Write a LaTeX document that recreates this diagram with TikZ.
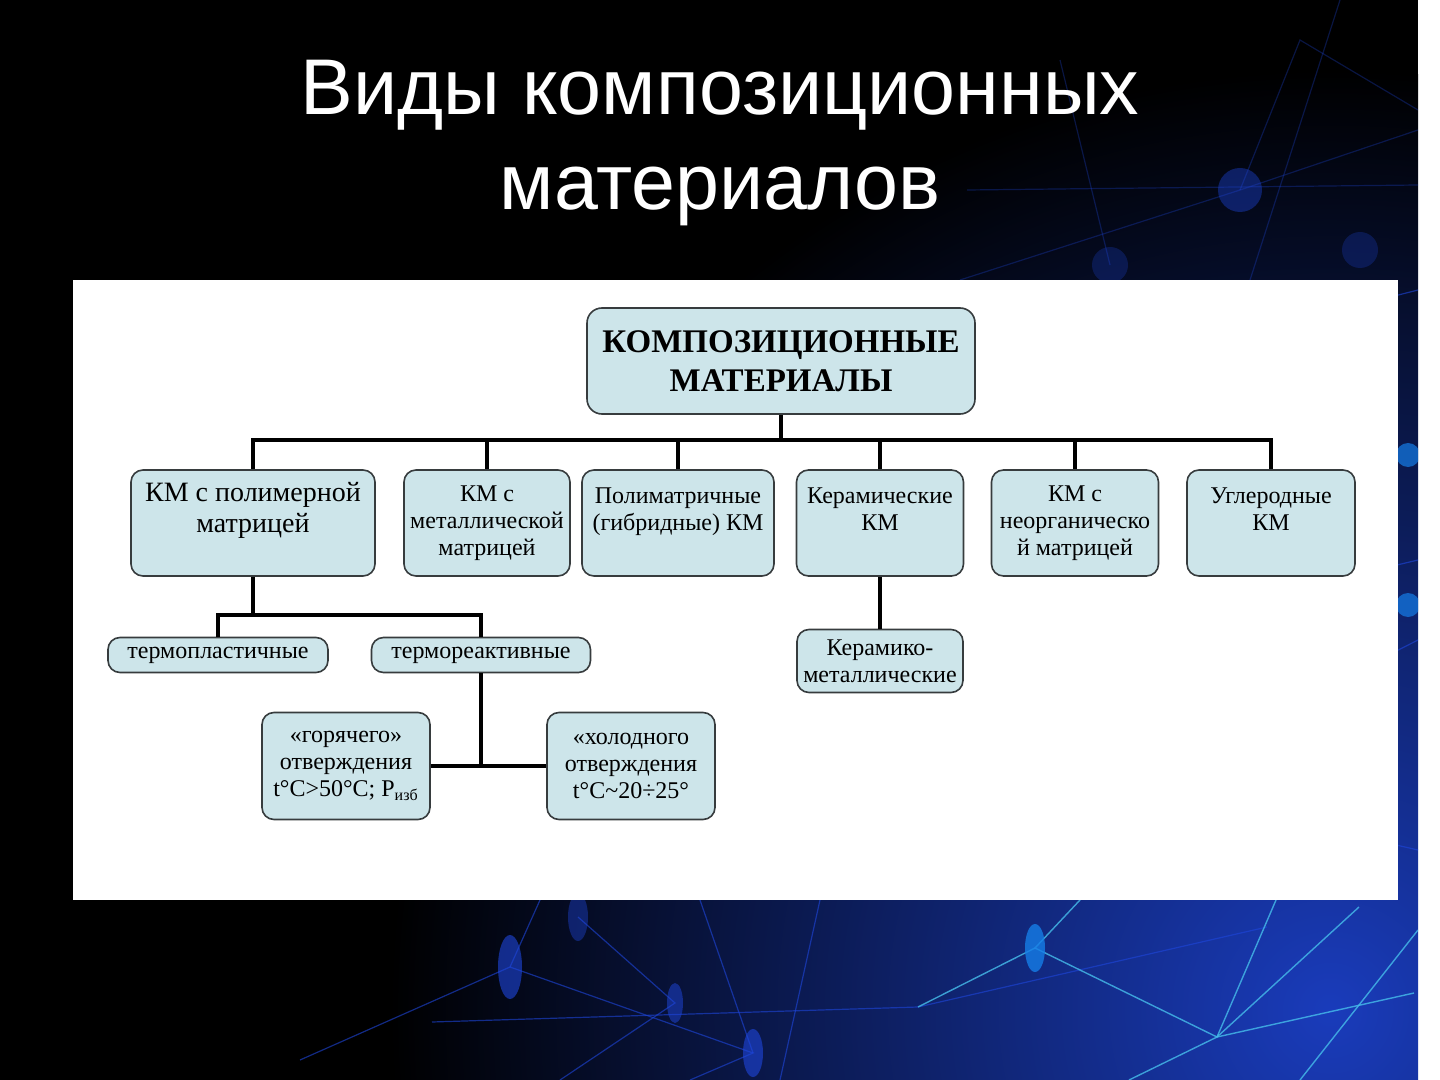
\documentclass[tikz,border=0pt]{standalone}
\usepackage{fontspec}
\setmainfont{Liberation Serif}
\newfontfamily\titlefont{Liberation Sans}
\usetikzlibrary{positioning,calc}
\definecolor{boxfill}{RGB}{205,229,234}
\definecolor{boxline}{RGB}{55,60,62}
\definecolor{netblue}{RGB}{30,70,220}
\definecolor{netcyan}{RGB}{70,190,235}
\tikzset{
  kmbox/.style  ={draw=boxline,line width=0.8pt,rounded corners=6pt,fill=boxfill,align=center,inner sep=2pt,
                  font=\fontsize{12}{13.5}\selectfont},
  rootbox/.style={kmbox,rounded corners=7.5pt,font=\fontsize{16.5}{19.5}\selectfont\bfseries,
                  minimum width=194pt,minimum height=53pt},
  level/.style  ={kmbox,minimum width=83.5pt,minimum height=53pt},
  flat/.style   ={kmbox,minimum height=17.5pt},
  link/.style   ={line width=2pt},
  net/.style    ={netblue,line width=0.6pt,opacity=0.6},
  netdim/.style ={netblue,line width=0.6pt,opacity=0.3},
  netlit/.style ={netcyan,line width=0.7pt,opacity=0.8},
  title/.style  ={white,align=center,font=\titlefont\fontsize{39.5}{47.5}\selectfont}
}
\begin{document}
\begin{tikzpicture}[x=0.5pt,y=-0.5pt]
  \useasboundingbox (0,0) rectangle (1440,1080);
  % slide background
  \fill[black] (0,0) rectangle (1440,1080);
  \fill[white] (1418,0) rectangle (1440,1080);
  \begin{scope}
    \clip (0,0) rectangle (1418,1080);
    \shade[inner color=netblue!85!black,outer color=black] (1330,1010) circle [radius=470pt];
    % network lines
    \draw[netdim] (960,280) -- (1240,190) -- (1418,130);
    \draw[netdim] (967,190) -- (1418,185);
    \draw[netdim] (1240,190) -- (1300,40) -- (1418,110);
    \draw[netdim] (1340,0) -- (1250,280);
    \draw[netdim] (1110,265) -- (1060,60);
    \draw[net] (1300,320) -- (1418,290);
    \draw[net] (1250,600) -- (1418,560);
    \draw[net] (1300,700) -- (1418,640);
    \draw[net] (1200,800) -- (1418,850);
    \draw[net] (432,1022) -- (918,1007) -- (1267,927);
    \draw[net] (510,967) -- (753,1053) -- (690,1080);
    \draw[net] (578,917) -- (675,1003) -- (560,1080);
    \draw[net] (700,900) -- (753,1053);
    \draw[net] (820,900) -- (780,1080);
    \draw[net] (300,1060) -- (510,967) -- (540,900);
    \draw[netlit] (1217,1037) -- (1414,993);
    \draw[netlit] (1217,1037) -- (1276,900);
    \draw[netlit] (1217,1037) -- (1359,907);
    \draw[netlit] (1217,1037) -- (1129,1080);
    \draw[netlit] (1217,1037) -- (1035,948) -- (1080,900);
    \draw[netlit] (918,1007) -- (1035,948);
    \draw[netlit] (1300,1080) -- (1418,930);
    \fill[netblue,opacity=0.4] (1240,190) circle [radius=11pt];
    \fill[netblue,opacity=0.25] (1110,265) circle [radius=9pt];
    \fill[netblue,opacity=0.25] (1360,250) circle [radius=9pt];
    \fill[netblue!70!cyan,opacity=0.7] (1408,455) circle [radius=6pt];
    \fill[netblue!70!cyan,opacity=0.7] (1408,605) circle [radius=6pt];
    \fill[netblue!70!cyan,opacity=0.8] (1035,948) ellipse [x radius=5pt,y radius=12pt];
    \fill[netblue,opacity=0.6] (510,967) ellipse [x radius=6pt,y radius=16pt];
    \fill[netblue,opacity=0.6] (753,1053) ellipse [x radius=5pt,y radius=12pt];
    \fill[netblue,opacity=0.5] (675,1003) ellipse [x radius=4pt,y radius=10pt];
    \fill[netblue,opacity=0.4] (578,917) ellipse [x radius=5pt,y radius=12pt];
  \end{scope}
  \node[title] (heading) at (720,143) {Виды композиционных\\материалов};
  \fill[white] (73,280) rectangle (1398,900);

  % classification tree
  \node[rootbox] (root) at (781,361) {КОМПОЗИЦИОННЫЕ\\МАТЕРИАЛЫ};
  \node[level,minimum width=122pt,font=\fontsize{14}{15.5}\selectfont] (poly) at (253,523)
    {КМ с полимерной\\матрицей\\~};
  \node[level,minimum width=83pt] (metal) at (487,523) {КМ с\\металлической\\матрицей};
  \node[level,minimum width=96pt] (hybrid) at (678,523) {Полиматричные\\(гибридные) КМ\\~};
  \node[level] (ceramic) at (880,523) {Керамические\\КМ\\~};
  \node[level] (inorganic) at (1075,523) {КМ с\\неорганическо\\й матрицей};
  \node[level,minimum width=84pt] (carbon) at (1271,523) {Углеродные\\КМ\\~};
  \node[flat,minimum width=110pt] (thermoplast) at (218,655) {термопластичные};
  \node[flat,minimum width=109.5pt] (thermoreact) at (481,655) {термореактивные};
  \node[level,minimum width=84pt,minimum height=53.5pt] (hot) at (346,766)
    {«горячего»\\отверждения\\t°C>50°C; P\textsubscript{изб}};
  \node[level,minimum width=84pt,minimum height=53.5pt] (cold) at (631,766)
    {«холодного\\отверждения\\t°C\textasciitilde20÷25°};
  \node[kmbox,minimum width=83pt,minimum height=31.5pt] (cermet) at (880,661)
    {Керамико-\\металлические};

  \coordinate (bus) at (781,440);
  \coordinate (polyfork) at (253,615);
  \coordinate (cure) at (481,766);
  \draw[link] (root.south) -- (bus);
  \draw[link] (poly.north) |- (bus) -| (carbon.north);
  \foreach \kind in {metal,hybrid,ceramic,inorganic}
    \draw[link] (\kind.north) -- (\kind.north |- bus);
  \draw[link] (poly.south) -- (polyfork);
  \draw[link] (thermoplast.north) |- (polyfork) -| (thermoreact.north);
  \draw[link] (thermoreact.south) -- (cure);
  \draw[link] (hot.east) -- (cold.west);
  \draw[link] (ceramic.south) -- (cermet.north);
\end{tikzpicture}
\end{document}
